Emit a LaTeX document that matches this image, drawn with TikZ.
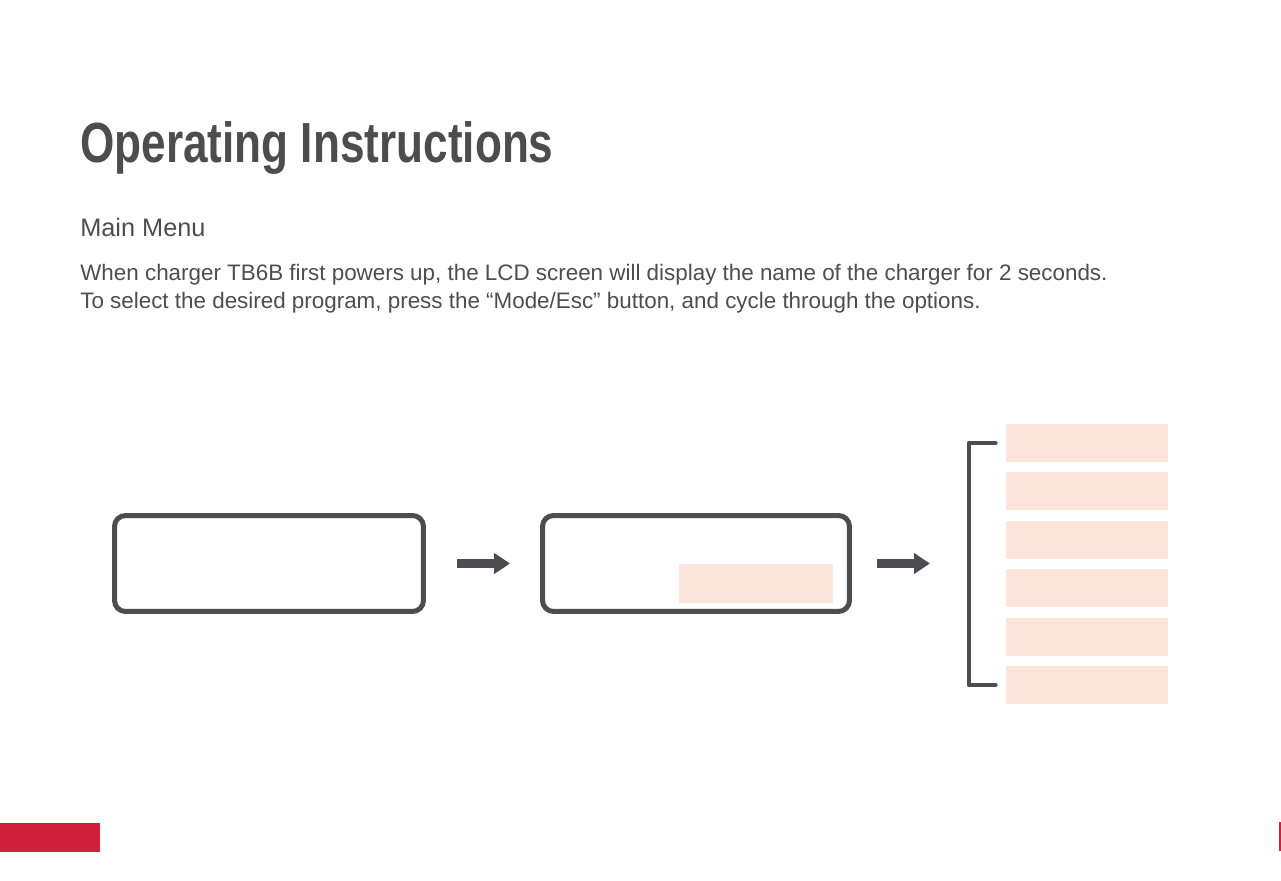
\documentclass[tikz,border=0pt]{standalone}
\usepackage{fontspec}
\setmainfont{Liberation Sans}
\newfontfamily\titlefont[FakeStretch=0.78]{Liberation Sans}
\usetikzlibrary{positioning,arrows.meta}
\definecolor{inkgrey}{HTML}{4D4D4F}
\definecolor{selpink}{HTML}{FDE4DC}
\definecolor{redaccent}{HTML}{CF1F3A}

\begin{document}
\begin{tikzpicture}[x=0.02cm,y=-0.02cm,
  lcd/.style={draw=inkgrey,line width=0.1cm,rounded corners=0.22cm,
    minimum width=6.18cm,minimum height=1.92cm,inner sep=0pt},
  optbox/.style={fill=selpink,minimum width=3.24cm,minimum height=0.76cm,inner sep=0pt},
  fatarrow/.style={inkgrey,line width=0.2cm,-{Triangle[length=0.32cm,width=0.4cm]}}]
  \useasboundingbox (0,0) rectangle (1281,881);
  % heading and text
  \node[anchor=base west,inner sep=0pt,text=inkgrey] (title) at (80,163)
    {\titlefont\bfseries\fontsize{32.2}{36}\selectfont Operating Instructions};
  \node[anchor=base west,inner sep=0pt,text=inkgrey] (sub) at (80,237)
    {\fontsize{14.4}{17}\selectfont Main Menu};
  \node[anchor=base west,inner sep=0pt,text=inkgrey] (intro1) at (80,281)
    {\fontsize{12.75}{15}\selectfont When charger TB6B first powers up, the LCD screen will display the name of the charger for 2 seconds.};
  \node[anchor=base west,inner sep=0pt,text=inkgrey] (intro2) at (80,309)
    {\fontsize{12.75}{15}\selectfont To select the desired program, press the “Mode/Esc” button, and cycle through the options.};
  % screens
  \node[lcd] (lcd1) at (269,563.5) {};
  \node[lcd,minimum width=6.14cm] (lcd2) at (696,563.5) {};
  \node[optbox,minimum width=3.08cm,minimum height=0.78cm] (lcdsel) at (756,583.5) {};
  \coordinate (menuin) at (930,563.5);
  \draw[fatarrow,shorten <=0.62cm,shorten >=0.6cm] (lcd1) -- (lcd2);
  \draw[fatarrow,shorten <=0.5cm] (lcd2) -- (menuin);
  % option list
  \foreach \i in {1,...,6}
    \node[optbox] (opt\i) at (1087,{443+48.4*(\i-1)}) {};
  \draw[inkgrey,line width=0.08cm,line cap=round,line join=round]
    ([xshift=-0.2cm]opt1.west) -- ++(-0.54cm,0) |- ([xshift=-0.2cm]opt6.west);
  % page marks
  \fill[redaccent] (0,823) rectangle (100,852);
  \fill[redaccent] (1279,822) rectangle (1281,851);
\end{tikzpicture}
\end{document}
